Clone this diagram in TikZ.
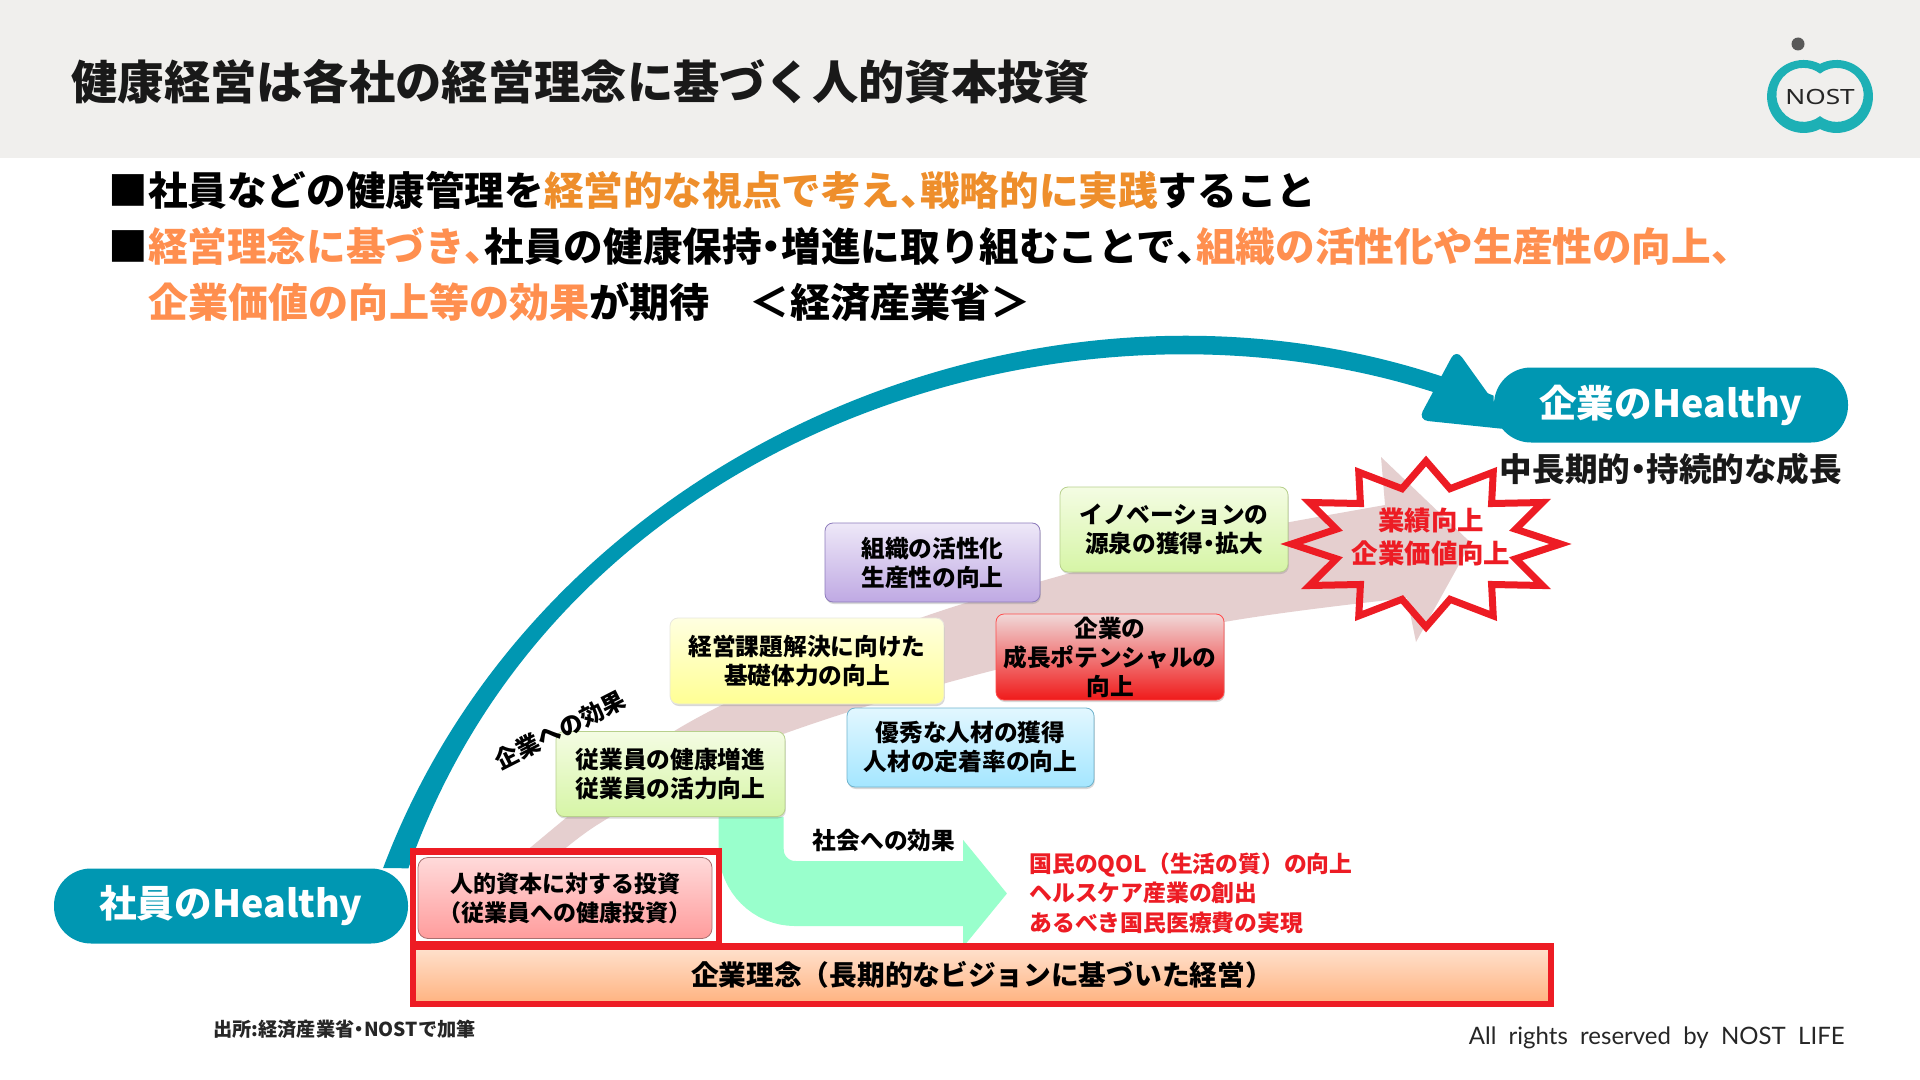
\documentclass[tikz,border=0pt]{standalone}
\usepackage{fontspec}
\setmainfont{Noto Sans CJK JP}
\newfontfamily\logofont{Noto Sans}
\newfontfamily\notefont{Lato}
\usetikzlibrary{positioning,arrows.meta,shapes.geometric,shadows,backgrounds}
\definecolor{nostTeal}{HTML}{0097B2}
\definecolor{ringTeal}{HTML}{1DB0B5}
\definecolor{headGray}{HTML}{F0EFED}
\definecolor{keyOrange}{HTML}{EE8E2B}
\definecolor{softOrange}{HTML}{FF8F4F}
\definecolor{alertRed}{HTML}{ED1C24}
\definecolor{pathPink}{HTML}{E5CFCF}
\definecolor{socialMint}{HTML}{99FFCC}
\definecolor{chipGreenTop}{HTML}{F4FCE3}
\definecolor{chipGreenEnd}{HTML}{D6F5A6}
\definecolor{chipGreenLine}{HTML}{B7D08C}
\newcommand{\pxsize}[2]{\fontsize{#1}{#2}\selectfont}
\newcommand{\tenten}{\makebox[.5em][l]{、}}
\newcommand{\nakaten}{\makebox[.5em][c]{・}}
\newcommand{\zenL}{\char"FF08\relax}
\newcommand{\zenR}{\char"FF09\relax}
\newcommand{\zenLt}{\char"FF1C\relax}
\newcommand{\zenGt}{\char"FF1E\relax}

\begin{document}
\begin{tikzpicture}[x=0.5pt,y=-0.5pt,
      lineA/.style={anchor=west,inner sep=0pt,font=\bfseries\pxsize{19.8pt}{24pt}},
      pill/.style={fill=nostTeal,text=white,rounded corners=18.5pt,minimum width=177pt,minimum height=37.5pt,inner sep=0pt,font=\bfseries\pxsize{18.8pt}{24pt}},
      chip/.style={rounded corners=4pt,inner sep=0pt,align=center,font=\bfseries\pxsize{11.85pt}{14.5pt},drop shadow={shadow xshift=0.4pt,shadow yshift=-1pt,opacity=.3}},
      greenchip/.style={chip,draw=chipGreenLine,top color=chipGreenTop,bottom color=chipGreenEnd},
      plain/.style={inner sep=0pt,align=center,font=\bfseries\pxsize{11.85pt}{14.5pt}},
      redlines/.style={anchor=west,inner sep=0pt,align=left,text=alertRed,font=\bfseries\pxsize{11.4pt}{14.7pt}},
      redframe/.style={draw=alertRed,line width=3.3pt,inner sep=0pt}]
    \useasboundingbox (0,0) rectangle (1920,1080);
    \begin{scope}[on background layer]
      \fill[white] (0,0) rectangle (1920,1080);
      \fill[headGray] (0,0) rectangle (1920,158);
      % rising arrow behind the boxes
      \fill[pathPink] plot[smooth,tension=.6] coordinates {(525,852) (600,790) (676,730) (800,668) (923,617) (1056,577) (1190,541) (1290,522) (1385,505)}
        -- (1381,457) -- (1471,543) -- (1416,642) -- (1407,598)
        -- plot[smooth,tension=.6] coordinates {(1407,598) (1224,622) (995,670) (786,733) (660,790) (597,825) (561,852)} -- cycle;
    \end{scope}
    \node[anchor=west,inner sep=0pt,font=\bfseries\pxsize{23.15pt}{28pt},text=black!90] (title) at (71,82) {健康経営は各社の経営理念に基づく人的資本投資};

    % logo
    \fill[black!65] (1798,44) circle (6.5);
    \shade[left color=ringTeal,middle color=socialMint!75!ringTeal,right color=ringTeal,even odd rule]
      (1820,63.9) arc[start angle=243.2,end angle=476.8,radius=36.5] arc[start angle=63.2,end angle=296.8,radius=36.5] -- cycle
      (1820,73.6) arc[start angle=232,end angle=488,radius=27] arc[start angle=52,end angle=308,radius=27] -- cycle;
    \node[inner sep=0pt,font=\logofont\pxsize{10.5pt}{12pt},text=black!85,xscale=1.25,transform shape] (logo) at (1820,97) {NOST};

    \node[lineA] (line1) at (108,190) {■社員などの健康管理を\textcolor{keyOrange}{経営的な視点で考え\tenten 戦略的に実践}すること};
    \node[lineA] (line2) at (108,246) {■\textcolor{softOrange}{経営理念に基づき\tenten}社員の健康保持\nakaten 増進に取り組むことで\tenten\textcolor{softOrange}{組織の活性化や生産性の向上\tenten}};
    \node[lineA,font=\bfseries\pxsize{20.05pt}{24pt}] (line3) at (148,302) {\textcolor{softOrange}{企業価値の向上等の効果}が期待\quad\zenLt 経済産業省\zenGt};

    \node[pill] (staff) at (231,906) {\raisebox{-1pt}{社員のHealthy}};
    \node[pill] (corp) at (1671,405) {\raisebox{-1pt}{企業のHealthy}};

    \node[greenchip,minimum width=114.5pt,minimum height=42.5pt] (healthbox) at (670.5,774) {従業員の健康増進\\従業員の活力向上};
    \node[chip,top color=yellow!12,bottom color=yellow!42,draw=yellow!30!black!15,minimum width=137pt,minimum height=43pt] (basebox) at (807,661) {経営課題解決に向けた\\基礎体力の向上};
    \node[chip,top color={rgb,255:red,238;green,232;blue,248},bottom color={rgb,255:red,191;green,169;blue,227},draw={rgb,255:red,141;green,123;blue,187},minimum width=107.5pt,minimum height=39.5pt] (orgbox) at (932.5,562.5) {組織の活性化\\生産性の向上};
    \node[greenchip,minimum width=114pt,minimum height=42.5pt] (innobox) at (1174,529.5) {イノベーションの\\源泉の獲得\nakaten 拡大};
    \node[chip,top color={rgb,255:red,240;green,216;blue,216},bottom color={rgb,255:red,240;green,26;blue,26},draw=red!70,minimum width=114pt,minimum height=43pt] (potbox) at (1110,657) {企業の\\成長ポテンシャルの\\向上};
    \node[chip,top color={rgb,255:red,226;green,247;blue,255},bottom color={rgb,255:red,164;green,230;blue,255},draw={rgb,255:red,111;green,179;blue,204},minimum width=123.5pt,minimum height=39.5pt] (talentbox) at (970.5,747.5) {優秀な人材の獲得\\人材の定着率の向上};
    \coordinate (mintend) at (1007,893.5);

    \begin{scope}[on background layer]
      \fill[nostTeal] (staff.14.5) .. controls (548,430) and (1082,225) .. (corp.177) -- (corp.183) .. controls (1115,255) and (568,415) .. (staff.12.9) -- cycle;
      \fill[nostTeal,rounded corners=5pt] (1456,349) -- (1514,430) -- (1418,420) -- cycle;
      \draw[socialMint,line width=32.5pt,rounded corners=22pt,-{Triangle[length=22pt,width=52.5pt]}] (healthbox.-28) |- (mintend);
    \end{scope}

    \node[star,star points=12,star point ratio=1.45,draw=alertRed,line width=3.5pt,minimum size=83pt,xscale=1.62,transform shape,inner sep=0pt] (burst) at (1426,544) {};
    \node[inner sep=0pt,align=center,text=alertRed,font=\bfseries\pxsize{13.2pt}{16.4pt}] (burstlabel) at (1431,537) {業績向上\\企業価値向上};
    \node[inner sep=0pt,font=\bfseries\pxsize{16.3pt}{18pt},text=black!90] (growth) at (1671,469) {中長期的\nakaten 持続的な成長};

    \node[plain,rotate=27] (corpfx) at (560,730) {企業への効果};
    \node[plain] (socfx) at (884,841) {社会への効果};
    \node[redlines] (socialitems) at (1029,893) {国民のQOL\zenL 生活の質\zenR の向上\\ヘルスケア産業の創出\\あるべき国民医療費の実現};

    \node[rounded corners=5pt,draw={rgb,255:red,169;green,112;blue,112},top color={rgb,255:red,255;green,218;blue,218},bottom color={rgb,255:red,255;green,156;blue,156},minimum width=147pt,minimum height=40.5pt,inner sep=0pt,align=center,font=\bfseries\pxsize{11.5pt}{14.6pt}] (invest) at (565,898) {人的資本に対する投資\\\zenL 従業員への健康投資\zenR};
    \node[redframe,minimum width=153pt,minimum height=46.75pt] (investframe) at (566,898) {};
    \node[top color={rgb,255:red,255;green,226;blue,207},bottom color={rgb,255:red,255;green,178;blue,127},redframe,minimum width=569pt,minimum height=28.75pt,font=\bfseries\pxsize{13.85pt}{17pt}] (vision) at (982,975.25) {企業理念\zenL 長期的なビジョンに基づいた経営\zenR\hspace{6pt}};

    \node[inner sep=0pt,font=\bfseries\pxsize{9.6pt}{12pt},text=black!85] (source) at (344.5,1029) {出所:経済産業省\nakaten NOSTで加筆};
    \node[inner sep=0pt,anchor=east,font=\notefont\pxsize{12pt}{14pt},text=black!85] (rights) at (1845,1038) {All\ \ rights\ \ reserved\ \ by\ \ NOST\ \ LIFE};
  \end{tikzpicture}
\end{document}
